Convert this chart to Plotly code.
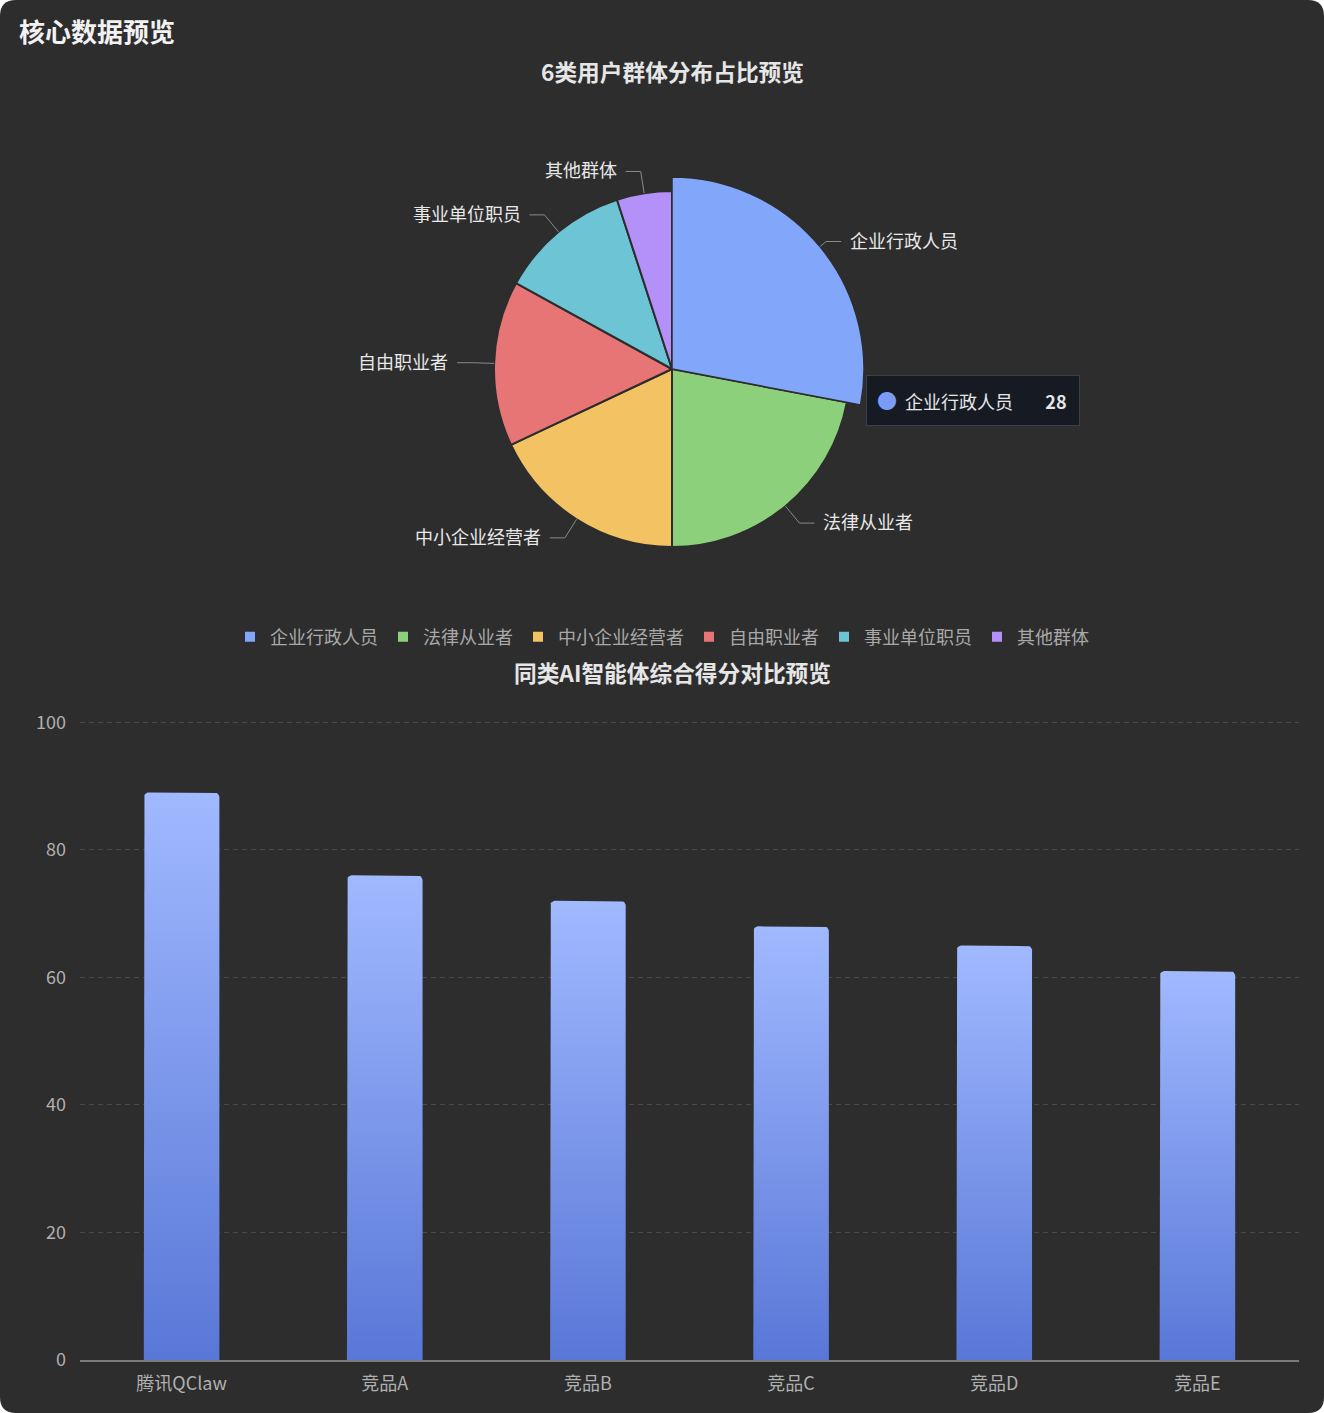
import math
import plotly.graph_objects as go

W, H = 1324, 1413
FONT = "Noto Sans CJK SC"

# ---------------- data ----------------
pie_labels = ["企业行政人员", "法律从业者", "中小企业经营者", "自由职业者", "事业单位职员", "其他群体"]
pie_values = [28, 22, 18, 15, 12, 5]
pie_colors = ["#82a6fa", "#8dd07b", "#f3c363", "#e77575", "#6cc4d4", "#b391f8"]

bar_categories = ["腾讯QClaw", "竞品A", "竞品B", "竞品C", "竞品D", "竞品E"]
bar_values = [89, 76, 72, 68, 65, 61]
y_ticks = [0, 20, 40, 60, 80, 100]

highlight_index = 0  # emphasised slice / tooltip


def px(x):
    return x / W


def py(y):
    return 1 - y / H


fig = go.Figure()

# ---------------- pie ----------------
cx, cy, R, R_hi = 672, 369, 178, 192
fig.add_trace(go.Pie(
    labels=pie_labels, values=pie_values, sort=False, direction="clockwise", rotation=0,
    marker=dict(colors=pie_colors, line=dict(color="#2d2d2d", width=2)),
    textinfo="none", hoverinfo="skip",
    domain=dict(x=[px(cx - R), px(cx + R)], y=[py(cy + R), py(cy - R)]),
    showlegend=True,
))
hi_colors = [c if i == highlight_index else "rgba(0,0,0,0)" for i, c in enumerate(pie_colors)]
hi_lines = [1.5 if i == highlight_index else 0 for i in range(len(pie_values))]
fig.add_trace(go.Pie(
    labels=pie_labels, values=pie_values, sort=False, direction="clockwise", rotation=0,
    marker=dict(colors=hi_colors, line=dict(color="#2d2d2d", width=hi_lines)),
    textinfo="none", hoverinfo="skip",
    domain=dict(x=[px(cx - R_hi), px(cx + R_hi)], y=[py(cy + R_hi), py(cy - R_hi)]),
    showlegend=False,
))

# leader lines and labels derived from slice angles
shapes = []
annotations = []
total = sum(pie_values)
cum = 0
L1, L2, GAP = 22, 15, 7
for i, (lab, v) in enumerate(zip(pie_labels, pie_values)):
    mid = (cum + v / 2) / total * 2 * math.pi
    cum += v
    s, c = math.sin(mid), math.cos(mid)
    r_edge = R_hi if i == highlight_index else R
    x0, y0 = cx + r_edge * s, cy - r_edge * c
    x1, y1 = cx + (R + L1) * s, cy - (R + L1) * c
    side = 1 if s >= 0 else -1
    x2, y2 = x1 + side * L2, y1
    shapes.append(dict(
        type="path", xref="paper", yref="paper",
        path=f"M {px(x0)},{py(y0)} L {px(x1)},{py(y1)} L {px(x2)},{py(y2)}",
        line=dict(color="#8a8a8a", width=1),
    ))
    annotations.append(dict(
        x=px(x2 + side * GAP), y=py(y2 - 2), xref="paper", yref="paper",
        text=lab, showarrow=False, xanchor="left" if side > 0 else "right", yanchor="middle",
        font=dict(family=FONT, size=18, color="#e8e8e8"),
    ))

# tooltip
annotations.append(dict(
    x=px(973), y=py(400), xref="paper", yref="paper", showarrow=False,
    text=(f'<span style="color:#7a9cf6;font-size:20px">●</span>  {pie_labels[highlight_index]}'
          f'        <b>{pie_values[highlight_index]}</b>'),
    font=dict(family=FONT, size=18, color="#e6e6e6"),
    bgcolor="#151a23", bordercolor="#3a3f4a", borderwidth=1, borderpad=10,
    width=192, align="left", xanchor="center", yanchor="middle",
))

# ---------------- bars (gradient fills) ----------------
half = 0.186
rx, ry = 5 / 203, 5 / 6.39
for i, v in enumerate(bar_values):
    xs = [i - half]
    ys = [0]
    for k in range(7):
        a = math.pi - k * (math.pi / 2) / 6
        xs.append(i - half + rx + rx * math.cos(a))
        ys.append(v - ry + ry * math.sin(a))
    for k in range(7):
        a = math.pi / 2 - k * (math.pi / 2) / 6
        xs.append(i + half - rx + rx * math.cos(a))
        ys.append(v - ry + ry * math.sin(a))
    xs += [i + half, i - half]
    ys += [0, 0]
    fig.add_trace(go.Scatter(
        x=xs, y=ys, mode="lines", fill="toself", line=dict(width=0),
        fillgradient=dict(type="vertical", start=0, stop=v,
                          colorscale=[[0, "#5977d7"], [1, "#a0b9ff"]]),
        hoverinfo="skip", showlegend=False, xaxis="x", yaxis="y",
    ))

annotations += [
    dict(x=px(17), y=py(31), xref="paper", yref="paper", text="<b>核心数据预览</b>", showarrow=False,
         xanchor="left", yanchor="middle", font=dict(family=FONT, size=26, color="#f2f2f2")),
    dict(x=px(672), y=py(72), xref="paper", yref="paper", text="<b>6类用户群体分布占比预览</b>",
         showarrow=False, xanchor="center", yanchor="middle",
         font=dict(family=FONT, size=22.7, color="#e6e6e6")),
    dict(x=px(672), y=py(672), xref="paper", yref="paper", text="<b>同类AI智能体综合得分对比预览</b>",
         showarrow=False, xanchor="center", yanchor="middle",
         font=dict(family=FONT, size=22.7, color="#e6e6e6")),
]

# rounded card background
rr = 16
x_r, y_r = rr / W, rr / H
card = (f"M {x_r},1 L {1 - x_r},1 Q 1,1 1,{1 - y_r} L 1,{y_r} Q 1,0 {1 - x_r},0 "
        f"L {x_r},0 Q 0,0 0,{y_r} L 0,{1 - y_r} Q 0,1 {x_r},1 Z")
shapes.insert(0, dict(type="path", xref="paper", yref="paper", path=card,
                      fillcolor="#2d2d2d", line=dict(width=0), layer="below"))

fig.update_layout(
    template="none",
    width=W, height=H,
    margin=dict(l=0, r=0, t=0, b=0, pad=0, autoexpand=False),
    paper_bgcolor="#ffffff", plot_bgcolor="rgba(0,0,0,0)",
    font=dict(family=FONT, color="#b0b0b0"),
    shapes=shapes, annotations=annotations,
    legend=dict(orientation="h", x=0.5, xanchor="center", y=py(637), yanchor="middle",
                font=dict(family=FONT, size=18, color="#a8a8a8"), bgcolor="rgba(0,0,0,0)",
                itemwidth=30, traceorder="normal"),
    xaxis=dict(domain=[px(80), px(1299)], range=[-0.5, len(bar_values) - 0.5], automargin=False,
               tickmode="array", tickvals=list(range(len(bar_categories))), ticktext=bar_categories,
               showgrid=False, zeroline=False, showline=True, linecolor="#7a7a7a", linewidth=1.5,
               ticks="", ticklabelstandoff=7,
               tickfont=dict(family=FONT, size=18, color="#b0b0b0"), fixedrange=True),
    yaxis=dict(domain=[py(1360), py(721)], range=[0, 100.2], tickvals=y_ticks, automargin=False,
               showgrid=True, gridcolor="#494949", griddash="5px,4px", gridwidth=1,
               zeroline=False, showline=False, ticks="", ticklabelstandoff=13,
               tickfont=dict(family=FONT, size=18, color="#b0b0b0"), fixedrange=True),
)

fig.write_html("out.html")
